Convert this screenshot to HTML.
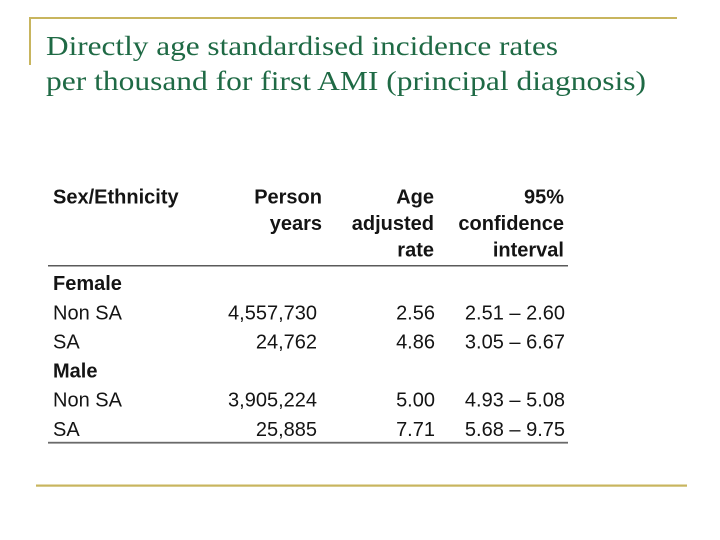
<!DOCTYPE html>
<html>
<head>
<meta charset="utf-8">
<style>
  html, body { margin: 0; padding: 0; background: #ffffff; }
  body { width: 720px; height: 540px; overflow: hidden; }
  svg { display: block; }
  .title { font-family: "Liberation Serif", serif; font-size: 27px; fill: #1f6a45; }
  .t { font-family: "Liberation Sans", sans-serif; font-size: 20px; fill: #141414; }
  .b { font-weight: bold; }
</style>
</head>
<body>
<svg width="720" height="540" viewBox="0 0 720 540" xmlns="http://www.w3.org/2000/svg">
  <rect x="0" y="0" width="720" height="540" fill="#ffffff"/>
  <!-- gold frame lines -->
  <rect x="29" y="17" width="648" height="2" fill="#c8b55e"/>
  <rect x="29" y="17" width="2" height="48" fill="#c8b55e"/>
  <rect x="36" y="484.5" width="651" height="2.2" fill="#c8b55e"/>

  <!-- title -->
  <text class="title" x="46" y="55" textLength="512" lengthAdjust="spacingAndGlyphs">Directly age standardised incidence rates</text>
  <text class="title" x="46" y="90" textLength="600" lengthAdjust="spacingAndGlyphs">per thousand for first AMI (principal diagnosis)</text>

  <!-- header -->
  <text class="t b" x="53" y="203.3">Sex/Ethnicity</text>
  <text class="t b" x="322" y="203.3" text-anchor="end">Person</text>
  <text class="t b" x="322" y="230" text-anchor="end">years</text>
  <text class="t b" x="434" y="203.3" text-anchor="end">Age</text>
  <text class="t b" x="434" y="230" text-anchor="end">adjusted</text>
  <text class="t b" x="434" y="256.7" text-anchor="end">rate</text>
  <text class="t b" x="564" y="203.3" text-anchor="end">95%</text>
  <text class="t b" x="564" y="230" text-anchor="end">confidence</text>
  <text class="t b" x="564" y="256.7" text-anchor="end">interval</text>

  <rect x="48" y="265" width="520" height="1.5" fill="#5a5a5a"/>

  <!-- body -->
  <text class="t b" x="53" y="290">Female</text>

  <text class="t" x="53" y="319.3">Non SA</text>
  <text class="t" x="317" y="319.3" text-anchor="end">4,557,730</text>
  <text class="t" x="435" y="319.3" text-anchor="end">2.56</text>
  <text class="t" x="565" y="319.3" text-anchor="end">2.51 – 2.60</text>

  <text class="t" x="53" y="348.3">SA</text>
  <text class="t" x="317" y="348.3" text-anchor="end">24,762</text>
  <text class="t" x="435" y="348.3" text-anchor="end">4.86</text>
  <text class="t" x="565" y="348.3" text-anchor="end">3.05 – 6.67</text>

  <text class="t b" x="53" y="377.6">Male</text>

  <text class="t" x="53" y="406.7">Non SA</text>
  <text class="t" x="317" y="406.7" text-anchor="end">3,905,224</text>
  <text class="t" x="435" y="406.7" text-anchor="end">5.00</text>
  <text class="t" x="565" y="406.7" text-anchor="end">4.93 – 5.08</text>

  <text class="t" x="53" y="435.8">SA</text>
  <text class="t" x="317" y="435.8" text-anchor="end">25,885</text>
  <text class="t" x="435" y="435.8" text-anchor="end">7.71</text>
  <text class="t" x="565" y="435.8" text-anchor="end">5.68 – 9.75</text>

  <rect x="48" y="441.8" width="520" height="1.8" fill="#6a6a6a"/>
</svg>
</body>
</html>
